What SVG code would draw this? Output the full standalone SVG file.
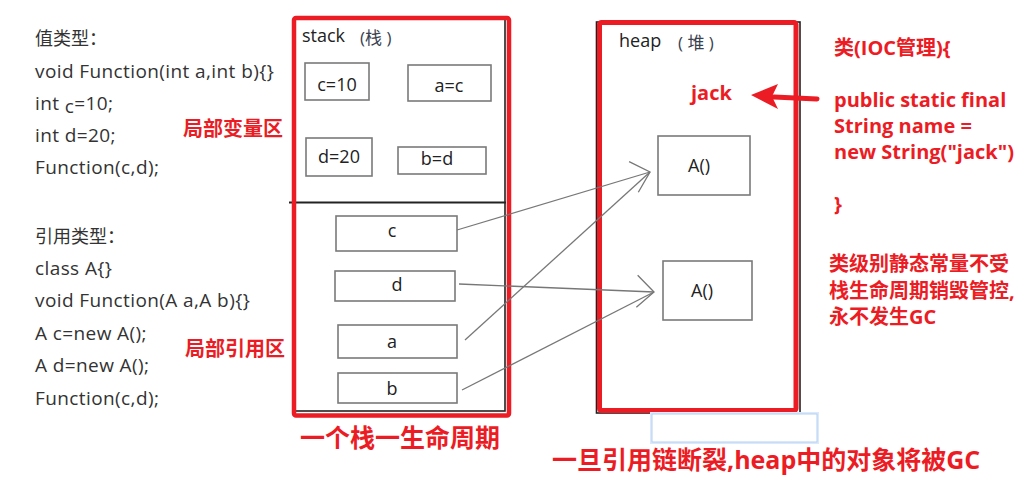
<svg xmlns="http://www.w3.org/2000/svg" width="1036" height="495" viewBox="0 0 1036 495">
<defs>
<style>
.code{font-family:"Open Sans","Noto Sans CJK SC",sans-serif;font-size:19px;letter-spacing:0.4px;fill:#333}
.cjk{font-family:"Open Sans","Noto Sans CJK SC",sans-serif;font-size:18px;fill:#333}
.hdr{font-family:"Open Sans","Noto Sans CJK SC",sans-serif;font-size:18px;fill:#222}
.paren{font-family:"Open Sans","Noto Sans CJK SC",sans-serif;font-size:17px;fill:#3a4250}
.lbl{font-family:"Open Sans","Noto Sans CJK SC",sans-serif;font-size:18px;fill:#222;text-anchor:middle}
.red{font-family:"Open Sans","Noto Sans CJK SC",sans-serif;font-weight:bold;fill:#ec1c24}
.box{fill:#fff;stroke:#7a7a7a;stroke-width:1.6}
.frame{fill:none;stroke:#ec1c24;stroke-width:4.5}
.inner{fill:none;stroke:#222;stroke-width:1.6}
.conn{fill:none;stroke:#777;stroke-width:1.3}
</style>
<marker id="open" markerUnits="userSpaceOnUse" markerWidth="22" markerHeight="36" viewBox="-2 -2 22 36" refX="17" refY="16" orient="auto">
<path d="M0,0 L17,16 L0,32" fill="none" stroke="#777" stroke-width="1.3"/>
</marker>
</defs>
<rect width="1036" height="495" fill="#fff"/>

<g id="code-left">
<text class="cjk" x="35" y="45">值类型：</text>
<text class="code" x="35" y="78">void Function(int a,int b){}</text>
<text class="code" x="35" y="110">int <tspan dy="3">c</tspan><tspan dy="-3">=10;</tspan></text>
<text class="code" x="35" y="142">int d=20;</text>
<text class="code" x="35" y="174">Function(c,d);</text>
<text class="cjk" x="35" y="243">引用类型：</text>
<text class="code" x="35" y="275">class A{}</text>
<text class="code" x="35" y="307">void Function(A a,A b){}</text>
<text class="code" x="35" y="340">A c=new A();</text>
<text class="code" x="35" y="372">A d=new A();</text>
<text class="code" x="35" y="405">Function(c,d);</text>
<text class="red" x="183" y="136" font-size="20">局部变量区</text>
<text class="red" x="185" y="356" font-size="20">局部引用区</text>
</g>

<g id="stack">
<rect class="inner" x="295" y="19" width="210" height="392"/>
<line x1="289" y1="202.5" x2="506" y2="202.5" stroke="#222" stroke-width="2"/>
<rect class="frame" x="294" y="18" width="215" height="397.5" rx="2"/>
<text class="hdr" x="302" y="42">stack</text>
<text class="paren" x="360" y="44">(栈 )</text>
</g>

<g id="box-c10"><rect class="box" x="305" y="63" width="64" height="37"/><text class="lbl" x="337" y="91">c=10</text></g>
<g id="box-ac"><rect class="box" x="408" y="65" width="83" height="36"/><text class="lbl" x="449" y="92">a=c</text></g>
<g id="box-d20"><rect class="box" x="306" y="138" width="66" height="38"/><text class="lbl" x="339" y="163">d=20</text></g>
<g id="box-bd"><rect class="box" x="398" y="147" width="88" height="27"/><text class="lbl" x="437" y="165">b=d</text></g>

<g id="ref-c"><rect class="box" x="336" y="216" width="121" height="35"/><text class="lbl" x="392" y="237">c</text></g>
<g id="ref-d"><rect class="box" x="335" y="271" width="120" height="30"/><text class="lbl" x="397" y="291">d</text></g>
<g id="ref-a"><rect class="box" x="338" y="325" width="119" height="33"/><text class="lbl" x="392" y="348">a</text></g>
<g id="ref-b"><rect class="box" x="338" y="373" width="119" height="30"/><text class="lbl" x="392" y="395">b</text></g>

<g id="heap">
<rect class="inner" x="596.5" y="22" width="203.5" height="391"/>
<rect x="599.5" y="22.5" width="196.5" height="388" fill="none" stroke="#ec1c24" stroke-width="5" rx="2"/>
<text class="hdr" x="619" y="47">heap</text>
<text class="paren" x="678" y="49">( 堆 )</text>
</g>

<g id="obj-1"><rect class="box" x="658" y="136" width="92" height="59"/><text class="lbl" x="699" y="172">A()</text></g>
<g id="obj-2"><rect class="box" x="663" y="261" width="89" height="59"/><text class="lbl" x="702" y="297">A()</text></g>

<g id="jack">
<text class="red" x="691" y="100" font-size="20">jack</text>
</g>

<g id="connectors">
<line class="conn" x1="457" y1="230" x2="650" y2="172" marker-end="url(#open)"/>
<line class="conn" x1="465" y1="340" x2="650" y2="172"/>
<line class="conn" x1="459" y1="284" x2="654" y2="292" marker-end="url(#open)"/>
<line class="conn" x1="462" y1="390" x2="654" y2="292"/>
<line x1="817" y1="99" x2="774" y2="97" stroke="#ec1c24" stroke-width="5" stroke-linecap="round"/>
<polygon points="751,95 778,84 772,96.5 778,109" fill="#ec1c24"/>
</g>

<g id="class-note">
<text class="red" x="834" y="55" font-size="20">类(IOC管理){</text>
<text class="red" x="834" y="107" font-size="20">public static final</text>
<text class="red" x="834" y="133" font-size="20">String name =</text>
<text class="red" x="834" y="159" font-size="20">new String("jack")</text>
<text class="red" x="834" y="211" font-size="20">}</text>
</g>

<g id="gc-note">
<text class="red" x="829" y="271" font-size="20">类级别静态常量不受</text>
<text class="red" x="829" y="298" font-size="20">栈生命周期销毁管控,</text>
<text class="red" x="829" y="324" font-size="20">永不发生GC</text>
</g>

<g id="highlight">
<rect x="652" y="414" width="165" height="28" fill="#fff" stroke="#dbe9fb" stroke-width="4"/>
<rect x="652" y="414" width="165" height="28" fill="#fff" stroke="#b3d0f3" stroke-width="1"/>
</g>

<g id="captions">
<text class="red" x="300" y="447" font-size="25">一个栈一生命周期</text>
<text class="red" x="552" y="469" font-size="25">一旦引用链断裂,heap中的对象将被GC</text>
</g>
</svg>
